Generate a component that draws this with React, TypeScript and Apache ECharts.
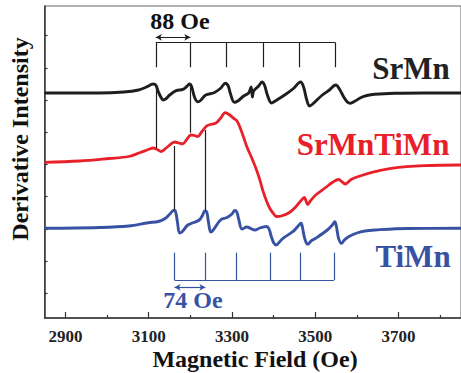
import React, { useEffect, useRef } from "react";
import * as echarts from "echarts";

// ---------- data ----------
const xMajorTicks = [2900, 3100, 3300, 3500, 3700];
const xMinorTicks = [3000, 3200, 3400, 3600, 3800];
const yTicks = [24.7, 56.9, 89.1, 121.3, 153.5, 185.7, 217.9, 250.1, 282.3];

const srMnField = [2850, 2981, 3040, 3075.6, 3094.5, 3111, 3117, 3123, 3129, 3135, 3142, 3150.5, 3166, 3182, 3191.4, 3198, 3203, 3209.7, 3217.5, 3224.5, 3237, 3257, 3272, 3284.4, 3291, 3296, 3305.7, 3314, 3328, 3340, 3346, 3349, 3352, 3364, 3372, 3378, 3385, 3395, 3404, 3430, 3449, 3458.6, 3464.6, 3472, 3479, 3486, 3494, 3517, 3534, 3544, 3549.7, 3558, 3567, 3577, 3584, 3596, 3610, 3624, 3643, 3690, 3761, 3850];
const srMnSignal = [225, 225, 226, 228, 231, 234, 233, 226.3, 221, 218, 219.5, 223, 227.3, 228.7, 231.5, 234, 231.5, 221.3, 216.3, 217.5, 223, 225.3, 229.5, 234.7, 232, 224.7, 215.7, 217, 222, 225, 231, 221, 227, 232, 236, 233, 223, 215, 217, 224, 230, 234.5, 236, 231, 219, 212, 214, 223, 228, 232, 233, 229, 222, 216, 214.7, 217, 220.5, 222.5, 223.7, 224.7, 225, 225];

const mixField = [2850, 2934, 3005, 3052, 3080, 3099, 3111, 3120.5, 3130, 3142, 3153.6, 3163, 3172.5, 3182, 3191.5, 3201.6, 3210, 3217.5, 3227, 3239, 3248, 3260.7, 3272, 3284, 3293, 3304, 3312, 3320, 3328.6, 3335.7, 3347.5, 3359, 3367, 3375, 3383, 3391, 3399.5, 3406.6, 3418.5, 3438, 3454, 3466, 3473.5, 3482, 3489, 3501, 3525, 3541, 3556, 3565, 3572, 3586, 3603.6, 3643, 3682.6, 3761, 3850];
const mixSignal = [155.7, 157, 159.5, 161.5, 165.5, 168.5, 170, 168.5, 166.5, 170, 174, 176, 175, 174.2, 178.5, 183, 182.5, 181.3, 186, 192, 193.5, 194.7, 199.5, 205.3, 203.5, 199.7, 197, 189.7, 180, 171.3, 160, 148, 138, 126.3, 117, 109.5, 104.5, 101.5, 102, 105.5, 111.5, 117.5, 120.5, 113.5, 117.5, 123, 130.5, 135.5, 138.5, 136, 134, 138.5, 141.5, 146.3, 149.7, 152.3, 153];

const tiMnField = [2850, 2981, 3052, 3099, 3123, 3139.5, 3151, 3159.5, 3164, 3169, 3174, 3179.6, 3194, 3208, 3221.5, 3229, 3234.7, 3239.4, 3243.5, 3249, 3255, 3272.5, 3288, 3300, 3306.8, 3311.6, 3316.6, 3324, 3335.7, 3347.5, 3355, 3366.5, 3376, 3383, 3389, 3394.6, 3400.5, 3406.6, 3414, 3422.5, 3446, 3458, 3465.7, 3469.5, 3473.5, 3478, 3481.6, 3490, 3501, 3529, 3541, 3547, 3551, 3556, 3563, 3570, 3580, 3600, 3619, 3643, 3722, 3850];
const tiMnSignal = [89.7, 90.5, 92, 95.3, 96.5, 99.5, 104, 107.5, 107, 96, 85, 86, 93, 95.5, 98, 102.5, 107, 106, 96, 86, 88, 98, 100.5, 104, 107.5, 106, 98, 89, 91, 89, 88, 90, 91, 91.5, 89, 81.3, 75, 73, 76, 79.7, 86.3, 91.5, 94.7, 90, 81.3, 75.5, 73.7, 77, 79.7, 88, 93, 96.3, 91, 79.7, 74.7, 78, 81.3, 85, 87, 88, 89.5, 89.7];

// hyperfine line positions (Oe) marked by the stick diagrams
const srMnLines = [3117, 3200, 3287, 3375, 3462, 3549];
const tiMnLines = [3162, 3236, 3310, 3391, 3463, 3545];

const BLACK = "#1e1e1e";
const RED = "#e8202a";
const BLUE = "#3852a3";
const FONT = "'Liberation Serif', 'Times New Roman', Times, serif";

function zip(xs: number[], ys: number[]) {
  return xs.map((x, i) => [x, ys[i]]);
}

function seg(x1: number, y1: number, x2: number, y2: number, color: string) {
  return [
    { coord: [x1, y1], lineStyle: { color, width: 1.2, type: "solid" } },
    { coord: [x2, y2] },
  ];
}

export default function App() {
  const ref = useRef<HTMLDivElement>(null);
  useEffect(() => {
    if (!ref.current) return;
    const chart = echarts.init(ref.current, null, { renderer: "svg" });

    const srTop = 275.3, srBottom = 250.7;
    const tiTop = 65.3, tiBottom = 38;

    const srBracket: any[] = [
      seg(srMnLines[0], srTop, srMnLines[5], srTop, BLACK),
      ...srMnLines.map((x) => seg(x, srTop, x, srBottom, BLACK)),
      seg(srMnLines[0], 233, srMnLines[0], 170, BLACK),
      seg(srMnLines[1], 234, srMnLines[1], 185.3, BLACK),
    ];
    const tiBracket: any[] = [
      seg(tiMnLines[0], tiBottom, tiMnLines[5], tiBottom, BLUE),
      ...tiMnLines.map((x) => seg(x, tiTop, x, tiBottom, BLUE)),
    ];
    const connectors: any[] = [
      seg(tiMnLines[0], 172, tiMnLines[0], 108, BLACK),
      seg(tiMnLines[1], 188, tiMnLines[1], 107.5, BLACK),
    ];

    const arrow = (x1: number, x2: number, y: number, color: string) => ({
      type: "line",
      data: [],
      silent: true,
      markLine: {
        silent: true,
        animation: false,
        symbol: ["arrow", "arrow"],
        symbolSize: [5, 6],
        label: { show: false },
        lineStyle: { color, width: 1.2, type: "solid" },
        data: [[{ coord: [x1, y] }, { coord: [x2, y] }]],
      },
    });

    const textStyle = (text: string, fill: string, size: number) => ({
      text,
      fill,
      font: `bold ${size}px ${FONT}`,
      align: "center",
      verticalAlign: "middle",
    });

    chart.setOption({
      animation: false,
      backgroundColor: "#ffffff",
      grid: {
        left: 44.6,
        right: -6.5,
        top: 6,
        bottom: 55,
        show: true,
        borderColor: "#666",
        borderWidth: 1,
      },
      xAxis: [
        {
          type: "value",
          min: 2850,
          max: 3850,
          axisLine: { show: true, lineStyle: { color: "#333", width: 1.5 } },
          splitLine: { show: false },
          axisTick: {
            show: true,
            inside: true,
            length: 6,
            customValues: xMajorTicks,
            lineStyle: { color: "#333", width: 1.2 },
          },
          axisLabel: {
            customValues: xMajorTicks,
            formatter: (v: number) => String(v),
            margin: 10,
            fontFamily: FONT,
            fontWeight: "bold",
            fontSize: 17,
            color: "#222",
          },
        },
        {
          type: "value",
          min: 2850,
          max: 3850,
          position: "bottom",
          axisLine: { show: false },
          splitLine: { show: false },
          axisTick: {
            show: true,
            inside: true,
            length: 3,
            customValues: xMinorTicks,
            lineStyle: { color: "#333", width: 1.2 },
          },
          axisLabel: { show: false },
        },
      ],
      yAxis: {
        type: "value",
        min: 0,
        max: 312,
        axisLine: { show: true, lineStyle: { color: "#333", width: 1.5 } },
        splitLine: { show: false },
        axisTick: {
          show: true,
          inside: true,
          length: 3,
          customValues: yTicks,
          lineStyle: { color: "#333", width: 1.2 },
        },
        axisLabel: { show: false },
      },
      series: [
        {
          name: "SrMn",
          type: "line",
          data: zip(srMnField, srMnSignal),
          smooth: 0.35,
          showSymbol: false,
          lineStyle: { color: BLACK, width: 2.9 },
          markLine: {
            silent: true,
            animation: false,
            symbol: "none",
            label: { show: false },
            data: srBracket,
          },
        },
        {
          name: "SrMnTiMn",
          type: "line",
          data: zip(mixField, mixSignal),
          smooth: 0.35,
          showSymbol: false,
          lineStyle: { color: RED, width: 2.8 },
          markLine: {
            silent: true,
            animation: false,
            symbol: "none",
            label: { show: false },
            data: connectors,
          },
        },
        {
          name: "TiMn",
          type: "line",
          data: zip(tiMnField, tiMnSignal),
          smooth: 0.35,
          showSymbol: false,
          lineStyle: { color: BLUE, width: 2.9 },
          markLine: {
            silent: true,
            animation: false,
            symbol: "none",
            label: { show: false },
            data: tiBracket,
          },
        },
        arrow(srMnLines[0], srMnLines[1], 280.7, BLACK),
        arrow(tiMnLines[0], tiMnLines[1], 30.7, BLUE),
      ],
      graphic: [
        { type: "text", x: 411, y: 68, style: textStyle("SrMn", "#222", 31) },
        { type: "text", x: 373, y: 144, style: textStyle("SrMnTiMn", RED, 31) },
        { type: "text", x: 413, y: 256, style: textStyle("TiMn", BLUE, 31) },
        { type: "text", x: 180, y: 21, style: textStyle("88 Oe", "#111", 24) },
        { type: "text", x: 193, y: 300, style: textStyle("74 Oe", BLUE, 24) },
        { type: "text", x: 255, y: 359, style: textStyle("Magnetic Field (Oe)", "#111", 24) },
        {
          type: "text",
          x: 20,
          y: 139,
          rotation: Math.PI / 2,
          style: textStyle("Derivative Intensity", "#111", 24),
        },
      ],
    });
    return () => chart.dispose();
  }, []);
  return (
    <div
      ref={ref}
      style={{ position: "fixed", left: 0, top: 0, width: 461, height: 373, background: "#fff" }}
    />
  );
}
